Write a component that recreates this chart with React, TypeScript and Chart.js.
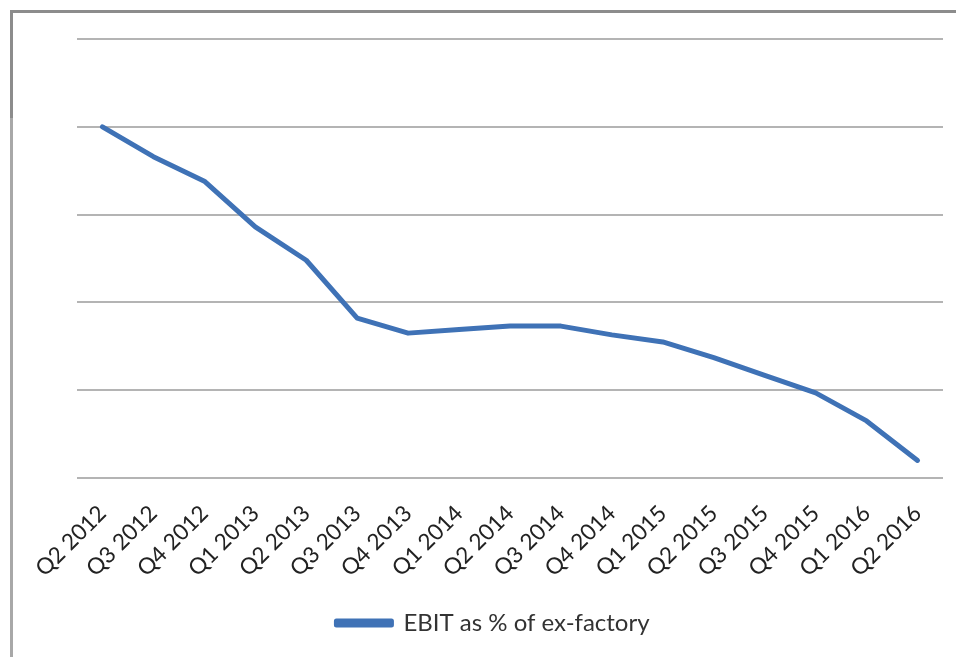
import React, { useEffect, useRef } from "react";
import { Chart, registerables } from "chart.js";

Chart.register(...registerables);

const categories = [
  "Q2 2012", "Q3 2012", "Q4 2012", "Q1 2013", "Q2 2013", "Q3 2013",
  "Q4 2013", "Q1 2014", "Q2 2014", "Q3 2014", "Q4 2014", "Q1 2015",
  "Q2 2015", "Q3 2015", "Q4 2015", "Q1 2016", "Q2 2016",
];

const ebitValues = [
  4.0, 3.66, 3.38, 2.86, 2.48, 1.82, 1.65, 1.69, 1.73, 1.73, 1.63, 1.55,
  1.37, 1.17, 0.97, 0.65, 0.2,
];

const seriesLabel = "EBIT as % of ex-factory";
const yMin = 0;
const yMax = 5;
const yStep = 1;

export default function App() {
  const canvasRef = useRef<HTMLCanvasElement | null>(null);

  useEffect(() => {
    if (!canvasRef.current) return;
    const chart = new Chart(canvasRef.current, {
      type: "line",
      data: {
        labels: categories,
        datasets: [
          {
            label: seriesLabel,
            data: ebitValues,
            borderColor: "#3F72B6",
            backgroundColor: "#3F72B6",
            borderWidth: 5,
            pointRadius: 0,
            tension: 0,
            borderJoinStyle: "round",
            borderCapStyle: "round",
          },
        ],
      },
      options: {
        animation: false,
        responsive: false,
        maintainAspectRatio: false,
        layout: { padding: { top: 39, right: 13, bottom: 12, left: 43 } },
        plugins: {
          tooltip: { enabled: false },
          legend: {
            position: "bottom",
            labels: {
              boxWidth: 55,
              boxHeight: 4,
              padding: 10,
              color: "#333333",
              font: { family: "Lato", size: 24 },
            },
          },
        },
        scales: {
          x: {
            offset: true,
            grid: { display: false },
            border: { display: false },
            ticks: {
              autoSkip: false,
              minRotation: 45,
              maxRotation: 45,
              padding: 14,
              color: "#222222",
              font: { family: "Lato", size: 22.5 },
            },
            afterFit: (scale: any) => {
              scale.height = 123;
            },
          },
          y: {
            min: yMin,
            max: yMax,
            ticks: { display: false, stepSize: yStep },
            border: { display: false },
            grid: { color: "#b4b4b4", lineWidth: 2, drawTicks: false },
            afterFit: (scale: any) => {
              scale.width = 34;
            },
          },
        },
      },
    });
    return () => chart.destroy();
  }, []);

  return (
    <div style={{ position: "absolute", left: 0, top: 0, width: 956, height: 657, background: "#ffffff", overflow: "hidden" }}>
      <div style={{ position: "absolute", left: 10, top: 10, right: -10, bottom: -10, borderTop: "3px solid #8c8c8c", borderLeft: "3px solid #a8a8a8" }} />
      <div style={{ position: "absolute", left: 10, top: 10, width: 3, height: 108, background: "#8c8c8c" }} />
      <canvas ref={canvasRef} width={956} height={657} style={{ position: "absolute", left: 0, top: 0, width: 956, height: 657 }} />
    </div>
  );
}
